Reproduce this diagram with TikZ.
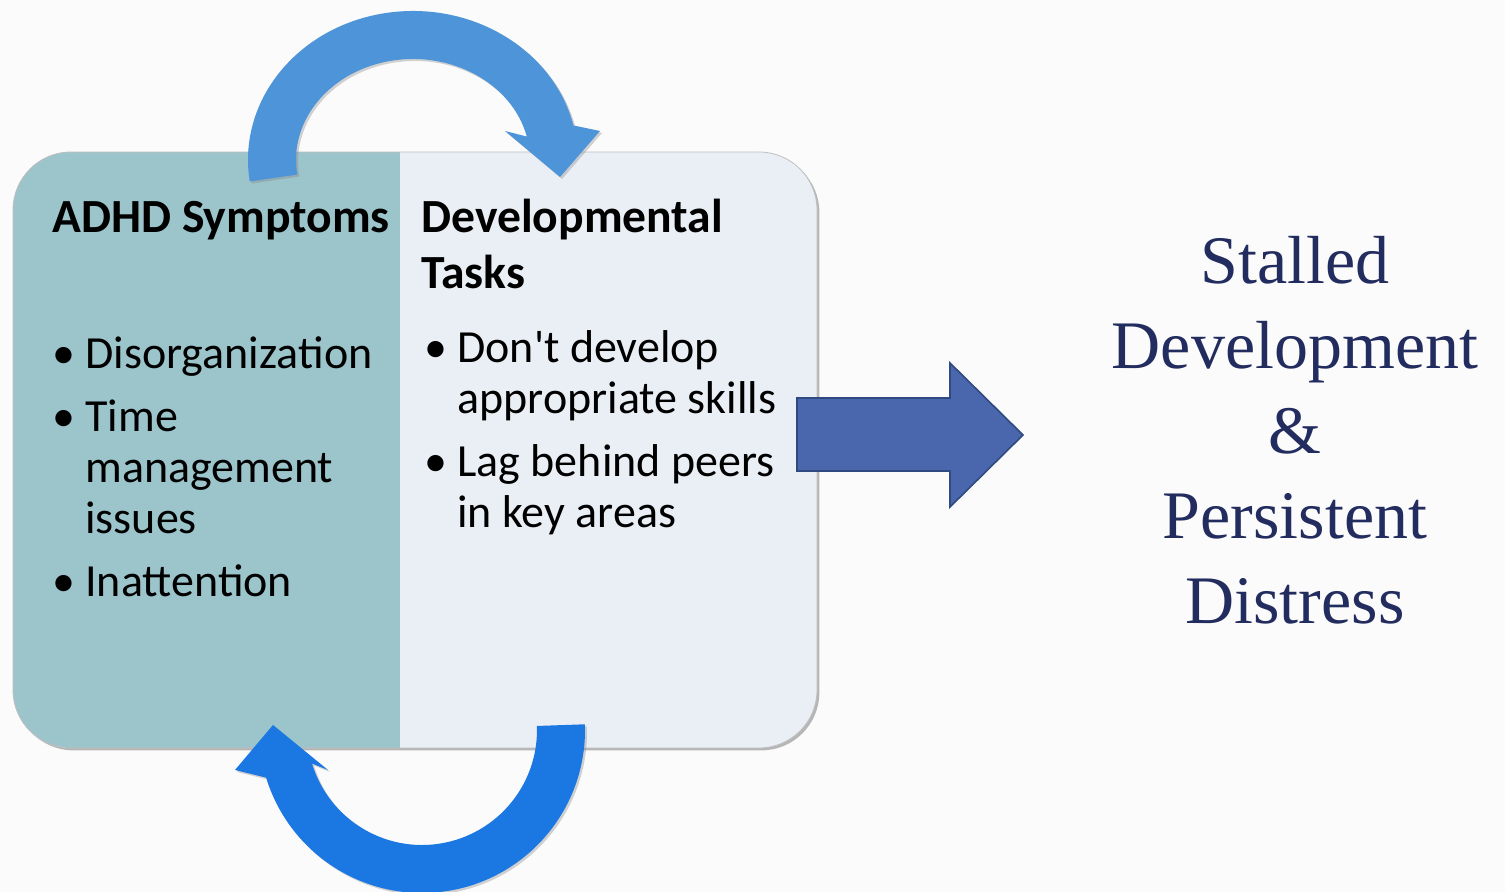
\documentclass[tikz,border=0pt]{standalone}
\usepackage{fontspec}
\setmainfont{Carlito}[Ligatures=TeXOff]
\newfontfamily\resultfont{Liberation Serif}
\usepackage{xcolor}
\usetikzlibrary{calc, shadows}

\definecolor{pagebg}{HTML}{FBFBFB}
\definecolor{symteal}{HTML}{9CC4CB}
\definecolor{taskgrey}{HTML}{EAEFF6}
\definecolor{loopblue}{HTML}{4D94D8}
\definecolor{loopbright}{HTML}{1B77E2}
\definecolor{outblue}{HTML}{4A67AD}
\definecolor{outedge}{HTML}{2F4A80}
\definecolor{resultnavy}{HTML}{232C5F}

% hanging bullet in front of a list line
\newcommand{\bul}{\llap{\textbullet\hspace{0.22em}}}

\begin{document}
\begin{tikzpicture}[
    x=0.5pt, y=0.5pt,
    panel/.style    = {draw=black!25, rounded corners=29pt, inner sep=0pt,
                       minimum width=402pt, minimum height=298pt, fill=taskgrey,
                       drop shadow={shadow xshift=1.2pt, shadow yshift=-1.2pt,
                                    opacity=.5, fill=black!55}},
    head/.style     = {inner sep=0pt, align=left,
                       font=\fontsize{23.8}{28}\selectfont\bfseries},
    items/.style    = {inner sep=0pt, align=left,
                       font=\fontsize{23}{25.5}\selectfont},
    cycarrow/.style = {drop shadow={shadow xshift=1pt, shadow yshift=-1pt,
                                    opacity=.35}},
    result/.style   = {inner sep=0pt, align=center, text=resultnavy,
                       font=\resultfont\fontsize{34}{42.5}\selectfont},
  ]

  %% page
  \useasboundingbox (0,0) rectangle (1505,892);
  \fill[pagebg] (0,0) rectangle (1505,892);

  %% two-tone panel
  \node[panel, path picture={
          \fill[symteal, sharp corners] (path picture bounding box.south west)
            rectangle ($(path picture bounding box.north west)+(387,0)$);}]
        (panel) at (415,442) {};

  %% Symptoms column (anchored on the last line)
  \node[head, anchor=base west] (symhead) at (52,659) {ADHD Symptoms};
  \node[items, anchor=base west] (symlist) at (85,295)
    {\bul Disorganization\\[6pt]
     \bul Time\\ management\\ issues\\[6pt]
     \bul Inattention};

  %% Tasks column
  \node[head, anchor=base west] (taskhead) at (421,603) {Developmental\\Tasks};
  \node[items, anchor=base west] (tasklist) at (457,364)
    {\bul Don't develop\\ appropriate skills\\[6pt]
     \bul Lag behind peers\\ in key areas};

  %% loop over the top
  \coordinate (topc) at (413,732);
  \fill[loopblue, cycarrow]
    ($(topc)+(188.3:165 and 149)$)
    arc[start angle=188.3, end angle=13.4, x radius=165, y radius=149]
    -- ($(topc)+(187,29)$) -- ($(topc)+(147,-17)$) -- ($(topc)+(92,29)$)
    -- ($(topc)+(13.4:117 and 101)$)
    arc[start angle=13.4, end angle=188.3, x radius=117, y radius=101] -- cycle;

  %% loop under the bottom
  \coordinate (botc) at (422,162);
  \fill[loopbright, cycarrow]
    ($(botc)+(2:163)$) arc[start angle=2, end angle=-163, radius=163]
    -- ($(botc)+(-187,-40)$) -- ($(botc)+(-149,5)$) -- ($(botc)+(-94,-40)$)
    -- ($(botc)+(-163:115)$)
    arc[start angle=-163, end angle=2, radius=115] -- cycle;

  %% outcome
  \node[result] (outcome) at (1295,462)
    {Stalled\\Development\\\&\\Persistent\\Distress};

  %% block arrow into the outcome
  \coordinate (outtail) at (797,457);
  \filldraw[fill=outblue, draw=outedge, line width=0.8pt]
    (outtail) ++(0,37) -- ++(153,0) -- ++(0,35) -- ++(73,-72)
    -- ++(-73,-72) -- ++(0,36) -- ++(-153,0) -- cycle;

\end{tikzpicture}
\end{document}
